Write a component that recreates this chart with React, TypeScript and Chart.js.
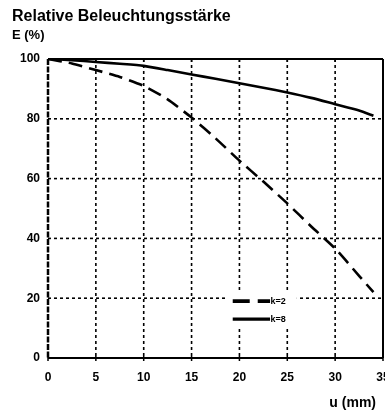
import React, { useEffect, useRef } from "react";
import { Chart, registerables } from "chart.js";

Chart.register(...registerables);

const titleText = "Relative Beleuchtungsstärke";
const yAxisTitle = "E (%)";
const xAxisTitle = "u (mm)";

const uValues = [0, 2.5, 5, 7.5, 10, 12.5, 15, 17.5, 20, 22.5, 25, 27.5, 30, 32.5, 34];
const k2Values = [100, 98.5, 96.3, 94, 91, 86.5, 80.4, 73.5, 66, 59, 51.7, 44, 36.6, 27.5, 22];
const k8Values = [100, 99.6, 99, 98.4, 97.7, 96.3, 94.8, 93.4, 91.9, 90.4, 88.8, 87, 84.9, 82.8, 81];
const seriesLabels = ["k=2", "k=8"];
const xTicks = [0, 5, 10, 15, 20, 25, 30, 35];
const yTicks = [0, 20, 40, 60, 80, 100];

const FONT = "Arial, 'Liberation Sans', Helvetica, sans-serif";

const framePlugin = {
  id: "frameAndGrid",
  beforeDatasetsDraw(chart: any) {
    const { ctx, chartArea } = chart;
    const xs = chart.scales.x;
    const ys = chart.scales.y;
    const { left, right, top, bottom } = chartArea;
    ctx.save();
    ctx.strokeStyle = "#000";
    ctx.setLineDash([3, 3]);
    ctx.lineWidth = 1.6;
    xTicks.forEach((v) => {
      if (v === xTicks[0] || v === xTicks[xTicks.length - 1]) return;
      const px = xs.getPixelForValue(v);
      ctx.beginPath();
      ctx.moveTo(px, top);
      ctx.lineTo(px, bottom);
      ctx.stroke();
    });
    yTicks.forEach((v) => {
      if (v === yTicks[0] || v === yTicks[yTicks.length - 1]) return;
      const py = ys.getPixelForValue(v);
      ctx.beginPath();
      ctx.moveTo(left, py);
      ctx.lineTo(right, py);
      ctx.stroke();
    });
    ctx.setLineDash([]);
    ctx.lineWidth = 2;
    ctx.beginPath();
    ctx.moveTo(left, top);
    ctx.lineTo(right, top);
    ctx.moveTo(right, top);
    ctx.lineTo(right, bottom);
    ctx.moveTo(left, bottom);
    ctx.lineTo(right, bottom);
    ctx.stroke();
    ctx.setLineDash([6, 1.5]);
    ctx.lineWidth = 2.5;
    ctx.beginPath();
    ctx.moveTo(left, top);
    ctx.lineTo(left, bottom);
    ctx.stroke();
    ctx.setLineDash([]);
    ctx.lineWidth = 1.5;
    xTicks.forEach((v) => {
      const px = xs.getPixelForValue(v);
      ctx.beginPath();
      ctx.moveTo(px, bottom - 2);
      ctx.lineTo(px, bottom + 3);
      ctx.moveTo(px, top);
      ctx.lineTo(px, top + 3);
      ctx.stroke();
    });
    ctx.restore();
  },
  afterDatasetsDraw(chart: any) {
    const { ctx } = chart;
    const xs = chart.scales.x;
    const ys = chart.scales.y;
    const bx = xs.getPixelForValue(18.5);
    const by = ys.getPixelForValue(22);
    const bw = xs.getPixelForValue(26) - bx;
    const bh = ys.getPixelForValue(10.5) - by;
    ctx.save();
    ctx.fillStyle = "#fff";
    ctx.fillRect(bx, by, bw, bh);
    const lx0 = xs.getPixelForValue(19.3);
    const lx1 = xs.getPixelForValue(23.2);
    chart.data.datasets.forEach((ds: any, i: number) => {
      const ly = ys.getPixelForValue(i === 0 ? 19 : 13);
      ctx.strokeStyle = "#000";
      ctx.lineWidth = i === 0 ? 3.8 : 3.2;
      ctx.setLineDash(i === 0 ? [17, 8] : []);
      ctx.beginPath();
      ctx.moveTo(lx0, ly);
      ctx.lineTo(lx1, ly);
      ctx.stroke();
      ctx.setLineDash([]);
      ctx.fillStyle = "#000";
      ctx.font = `bold 9px ${FONT}`;
      ctx.textAlign = "left";
      ctx.textBaseline = "middle";
      ctx.fillText(ds.label, lx1 + 0.5, ly + 0.5);
    });
    ctx.restore();
  },
  afterDraw(chart: any) {
    const { ctx } = chart;
    ctx.save();
    ctx.fillStyle = "#000";
    ctx.textAlign = "left";
    ctx.textBaseline = "alphabetic";
    ctx.font = `bold 16px ${FONT}`;
    ctx.fillText(titleText, 12, 21);
    ctx.font = `bold 13px ${FONT}`;
    ctx.fillText(yAxisTitle, 12, 39);
    ctx.textAlign = "right";
    ctx.font = `bold 14px ${FONT}`;
    ctx.fillText(xAxisTitle, 376, 407);
    ctx.restore();
  },
};

export default function App() {
  const canvasRef = useRef<HTMLCanvasElement | null>(null);

  useEffect(() => {
    if (!canvasRef.current) return;
    const chart = new Chart(canvasRef.current, {
      type: "line",
      data: {
        datasets: [
          {
            label: seriesLabels[0],
            data: uValues.map((u, i) => ({ x: u, y: k2Values[i] })),
            borderColor: "#000",
            borderWidth: 2.6,
            borderDash: [14, 7],
            pointRadius: 0,
            tension: 0.2,
            fill: false,
          },
          {
            label: seriesLabels[1],
            data: uValues.map((u, i) => ({ x: u, y: k8Values[i] })),
            borderColor: "#000",
            borderWidth: 2.6,
            pointRadius: 0,
            tension: 0.2,
            fill: false,
          },
        ],
      },
      options: {
        animation: false,
        responsive: true,
        maintainAspectRatio: false,
        layout: { padding: { top: 59, right: 2, bottom: 21, left: 0 } },
        plugins: {
          legend: { display: false },
          tooltip: { enabled: false },
          title: { display: false },
        },
        scales: {
          x: {
            type: "linear",
            min: 0,
            max: 35,
            afterBuildTicks: (scale: any) => {
              scale.ticks = xTicks.map((v) => ({ value: v }));
            },
            afterFit: (scale: any) => {
              scale.height = 35;
              scale.paddingLeft = 0;
              scale.paddingRight = 0;
            },
            grid: { display: false, drawTicks: false },
            border: { display: false },
            ticks: {
              color: "#000",
              font: { family: FONT, weight: "bold", size: 12 },
              padding: 12,
              maxRotation: 0,
              autoSkip: false,
            },
          },
          y: {
            type: "linear",
            min: 0,
            max: 100,
            afterBuildTicks: (scale: any) => {
              scale.ticks = yTicks.map((v) => ({ value: v }));
            },
            afterFit: (scale: any) => {
              scale.width = 48;
              scale.paddingTop = 0;
              scale.paddingBottom = 0;
            },
            grid: { display: false, drawTicks: false },
            border: { display: false },
            ticks: {
              color: "#000",
              font: { family: FONT, weight: "bold", size: 12 },
              padding: 8,
              autoSkip: false,
            },
          },
        },
      },
      plugins: [framePlugin],
    });
    return () => chart.destroy();
  }, []);

  return (
    <div style={{ position: "absolute", left: 0, top: 0, width: 385, height: 414, background: "#fff" }}>
      <canvas ref={canvasRef} />
    </div>
  );
}
